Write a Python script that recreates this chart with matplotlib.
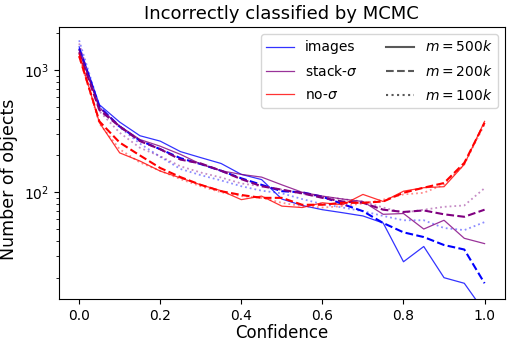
import matplotlib
matplotlib.use("Agg")
import matplotlib.pyplot as plt
import numpy as np
from matplotlib.lines import Line2D

# confidence bins
confidence = np.round(np.arange(0, 1.0001, 0.05), 2)

# images
images_500k = [1550, 520, 375, 290, 262, 215, 192, 172, 140, 127, 88, 78, 72, 68, 64, 56, 27, 36, 20, 18, 10.5]
images_200k = [1500, 500, 345, 265, 225, 190, 170, 150, 130, 115, 102, 100, 92, 80, 70, 56, 47, 43, 37, 34, 18]
images_100k = [1750, 500, 340, 250, 195, 155, 138, 125, 112, 103, 98, 88, 80, 75, 70, 64, 59, 59, 51, 49, 57]

# stack-sigma
stack_500k = [1450, 490, 348, 270, 238, 204, 170, 150, 140, 133, 115, 100, 93, 88, 84, 66, 67, 50, 59, 42, 38]
stack_200k = [1400, 470, 345, 262, 225, 185, 172, 150, 128, 112, 105, 98, 90, 84, 82, 72, 69, 71, 66, 63, 72]
stack_100k = [1650, 460, 307, 231, 197, 163, 145, 132, 118, 112, 105, 97, 92, 88, 84, 75, 68, 72, 76, 78, 108]

# no-sigma
nosig_500k = [1350, 371, 210, 180, 149, 131, 115, 103, 87, 93, 77, 75, 82, 79, 96, 84, 102, 109, 111, 169, 380]
nosig_200k = [1300, 380, 255, 200, 158, 133, 115, 102, 95, 90, 90, 79, 79, 82, 82, 84, 99, 109, 119, 174, 370]
nosig_100k = [1300, 365, 225, 175, 150, 128, 112, 100, 93, 90, 82, 77, 75, 77, 81, 87, 96, 99, 116, 169, 360]

series = {
    "images": ("blue", [images_500k, images_200k, images_100k]),
    r"stack-$\sigma$": ("purple", [stack_500k, stack_200k, stack_100k]),
    r"no-$\sigma$": ("red", [nosig_500k, nosig_200k, nosig_100k]),
}
m_labels = [r"$m=500k$", r"$m=200k$", r"$m=100k$"]
styles = [dict(ls="-", lw=0.9, alpha=0.8),
          dict(ls="--", lw=1.5, alpha=1.0),
          dict(ls=":", lw=1.3, alpha=0.45)]

fig = plt.figure(figsize=(5.12, 3.46), dpi=100)
ax = fig.add_axes([0.115, 0.136, 0.871, 0.786])

for name, (col, runs) in series.items():
    for vals, st in zip(runs, styles):
        ax.plot(confidence, vals, color=col, **st)

ax.set_yscale("log")
ax.set_ylim(13.4, 2250)
ax.set_xlabel("Confidence", fontsize=12, labelpad=1)
ax.set_ylabel("Number of objects", fontsize=12.5, y=0.44)
ax.set_title("Incorrectly classified by MCMC", fontsize=13)
ax.tick_params(labelsize=10)

handles = [Line2D([], [], color=c, lw=0.9, alpha=0.8) for c, _ in series.values()]
handles += [Line2D([], [], color="0.35", lw=1.5, ls=s["ls"]) for s in styles]
labels = list(series.keys()) + m_labels
ax.legend(handles, labels, ncol=2, loc="upper right", fontsize=10, labelspacing=0.65)

fig.savefig("out.png", dpi=100)
